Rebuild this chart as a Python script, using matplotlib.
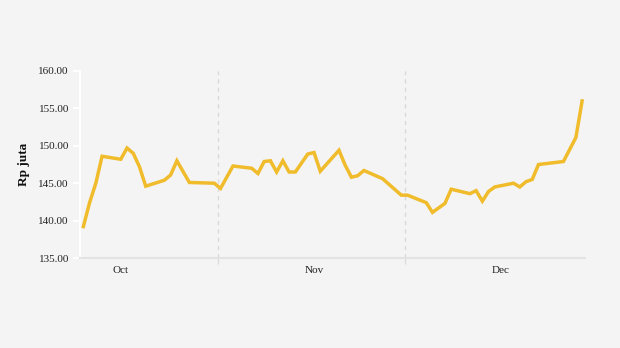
import matplotlib
matplotlib.use('Agg')
import matplotlib.pyplot as plt
import pandas as pd
from matplotlib.ticker import FuncFormatter

dates = [
    '2023-10-10', '2023-10-11', '2023-10-12', '2023-10-13', '2023-10-16',
    '2023-10-17', '2023-10-18', '2023-10-19', '2023-10-20', '2023-10-23',
    '2023-10-24', '2023-10-25', '2023-10-27', '2023-10-31', '2023-11-01',
    '2023-11-03', '2023-11-06', '2023-11-07', '2023-11-08', '2023-11-09',
    '2023-11-10', '2023-11-11', '2023-11-12', '2023-11-13', '2023-11-15',
    '2023-11-16', '2023-11-17', '2023-11-20', '2023-11-21', '2023-11-22',
    '2023-11-23', '2023-11-24', '2023-11-27', '2023-11-30', '2023-12-01',
    '2023-12-04', '2023-12-05', '2023-12-07', '2023-12-08', '2023-12-11',
    '2023-12-12', '2023-12-13', '2023-12-14', '2023-12-15', '2023-12-18',
    '2023-12-19', '2023-12-20', '2023-12-21', '2023-12-22', '2023-12-26',
    '2023-12-28', '2023-12-29',
]
prices = [
    139.2, 142.4, 145.0, 148.6, 148.2,
    149.7, 149.0, 147.2, 144.6, 145.4,
    146.1, 148.0, 145.1, 145.0, 144.3,
    147.3, 147.0, 146.3, 147.9, 148.0,
    146.5, 148.0, 146.5, 146.5, 148.9,
    149.1, 146.6, 149.4, 147.4, 145.8,
    146.0, 146.7, 145.6, 143.4, 143.4,
    142.4, 141.1, 142.3, 144.2, 143.6,
    144.0, 142.6, 143.9, 144.5, 145.0,
    144.5, 145.2, 145.5, 147.5, 147.9,
    151.1, 156.0,
]
month_labels = ['Oct', 'Nov', 'Dec']
label_dates = ['2023-10-16', '2023-11-16', '2023-12-16']
month_starts = ['2023-11-01', '2023-12-01']
y_ticks = [135, 140, 145, 150, 155, 160]

# local time shift of the timestamps
shift = pd.Timedelta(hours=10)
x = pd.to_datetime(dates) + shift

plt.rcParams['font.family'] = ['Liberation Serif', 'DejaVu Serif']
bg = '#f4f4f4'

fig = plt.figure(figsize=(6.2, 3.48), dpi=100, facecolor=bg)
ax = fig.add_axes([0.129, 0.2586, 0.8145, 0.5374], facecolor=bg)

ax.plot(x, prices, color='#f0bc2c', linewidth=2.5, solid_joinstyle='miter')

ax.set_ylim(135, 160)
ax.set_yticks(y_ticks)
ax.yaxis.set_major_formatter(FuncFormatter(lambda v, p: f'{v:.2f}'))
ax.set_xlim(pd.Timestamp('2023-10-09 21:00'), pd.Timestamp('2023-12-29 21:00'))

ax.set_xticks(pd.to_datetime(label_dates) + shift)
ax.set_xticklabels(month_labels)
ax.set_xticks(pd.to_datetime(month_starts), minor=True)
ax.grid(True, which='minor', axis='x', color='#d9d9d9', linestyle=(0, (3, 3)), linewidth=1)

ax.tick_params(axis='x', which='major', length=0, pad=6, labelsize=8, labelcolor='#222222')
ax.tick_params(axis='x', which='minor', length=4, width=1, color='#dddddd')
ax.tick_params(axis='y', length=5, width=1.5, color='white', labelsize=8,
               labelcolor='#222222', pad=3)

for side in ['top', 'right']:
    ax.spines[side].set_visible(False)
ax.spines['left'].set_color('white')
ax.spines['left'].set_linewidth(1.5)
ax.spines['bottom'].set_color('#e3e3e3')
ax.spines['bottom'].set_linewidth(1.5)

ax.set_ylabel('Rp juta', fontsize=9.5, fontweight='bold', color='#111111', labelpad=6)

fig.savefig('out.png', dpi=100, facecolor=bg)
